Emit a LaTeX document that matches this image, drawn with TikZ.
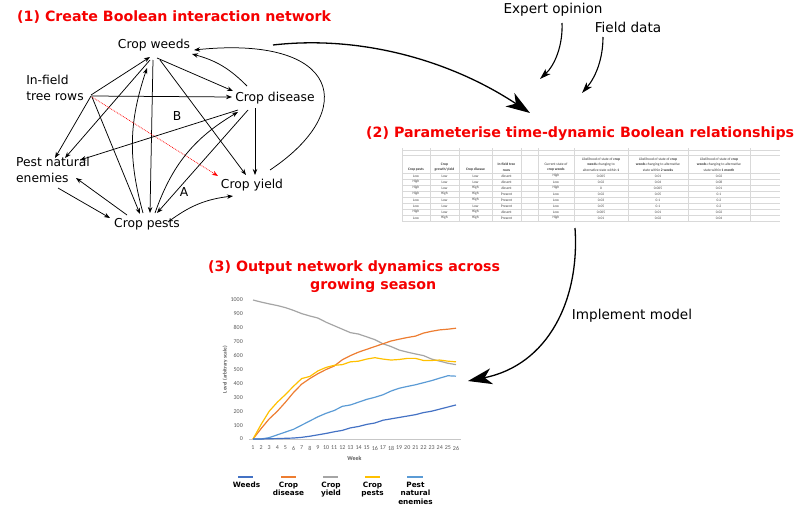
\documentclass[tikz,border=0pt]{standalone}
\usepackage{fontspec}
\setmainfont{DejaVu Sans}
\newfontfamily\calib{Carlito}
\usetikzlibrary{arrows.meta,calc}
\definecolor{cweeds}{HTML}{4472C4}
\definecolor{cdis}{HTML}{ED7D31}
\definecolor{cyld}{HTML}{A5A5A5}
\definecolor{cpst}{HTML}{FFC000}
\definecolor{cnat}{HTML}{5B9BD5}
\definecolor{ttlred}{RGB}{245,0,0}
\begin{document}
\begin{tikzpicture}[x=1pt,y=-1pt,
  lbl/.style={font=\fontsize{12.3}{15.5}\selectfont, inner sep=1pt, align=left},
  lbl2/.style={font=\fontsize{13.6}{16}\selectfont, inner sep=1pt},
  ttl/.style={font=\fontsize{14.2}{17}\selectfont\bfseries, text=ttlred, inner sep=0pt, anchor=west},
  edge/.style={line width=0.75pt, -{Stealth[length=6pt,width=4.5pt]}},
  redge/.style={line width=0.75pt, red, densely dotted, -{Stealth[length=6pt,width=4.5pt]}},
  big/.style={line width=1.3pt, -{Stealth[length=24pt,width=16pt,inset=7pt]}},
  mid/.style={line width=1.1pt, -{Stealth[length=11pt,width=7pt,inset=3pt]}},
  tcell/.style={font=\calib\fontsize{3.6}{4.6}\selectfont, inner sep=0pt, align=center, text=black!75},
  thead/.style={font=\calib\fontsize{3.6}{5.3}\selectfont, inner sep=0pt, align=center, anchor=south, text=black!80},
  tick/.style={font=\calib\fontsize{6}{7}\selectfont, inner sep=0pt, text=black!65},
  leg/.style={font=\fontsize{7.3}{8.7}\selectfont\bfseries, inner sep=0pt, align=center, anchor=north},
  series/.style={line width=1.2pt, line join=round}
]
\useasboundingbox (0,0) rectangle (796,506);

% ---------- (1) network ----------
\node[ttl] (t1) at (17,17) {(1) Create Boolean interaction network};

\node[lbl] (cw) at (154,45) {Crop weeds};
\node[lbl] (tr) at (55,88) {In-field\\tree rows};
\node[lbl] (cd) at (275,98) {Crop disease};
\node[lbl] (ne) at (53,170) {Pest natural\\enemies};
\node[lbl] (cy) at (252,185) {Crop yield};
\node[lbl] (cp) at (147,224) {Crop pests};

\draw[edge] ($(tr)+(36,7)$) -- ($(cw)+(-4,12)$);
\draw[edge] ($(cw)+(3,13)$) -- ($(cd)+(-42,-7)$);
\draw[edge] ($(cd)+(-28,-12)$) to[bend right=15] ($(cw)+(38,9)$);
\draw[edge] ($(cy)+(18,-15)$) .. controls (360,110) and (340,35) .. ($(cw)+(40,5)$);
\draw[edge] ($(cw)+(6,15)$) -- ($(cy)+(-6,-10)$);
\draw[edge] ($(cw)+(-1,15)$) -- ($(cp)+(3,-11)$);
\draw[edge] ($(cp)+(-4,-11)$) to[bend left=17] ($(cw)+(-7,23)$);
\draw[edge] ($(cw)+(-4,15)$) -- ($(ne)+(12,-12)$);
\draw[edge] ($(tr)+(36,8)$) -- ($(ne)+(2,-12)$);
\draw[edge] ($(tr)+(36,8)$) -- ($(cd)+(-43,-1)$);
\draw[edge] ($(tr)+(37,9)$) -- ($(cp)+(-7,-10)$);
\draw[redge] ($(tr)+(37,9)$) -- ($(cy)+(-34,-9)$);
\draw[edge] ($(cd)+(-37,12)$) -- ($(ne)+(27,-10)$);
\draw[edge] ($(cd)+(-20,10)$) -- ($(cy)+(3,-10)$);
\draw[edge] ($(cd)+(-27,12)$) -- ($(cp)+(10,-11)$);
\draw[edge] ($(cp)+(8,-11)$) to[bend left=20] ($(cd)+(-37,14)$);
\draw[edge] ($(ne)+(5,18)$) -- ($(cp)+(-37,-6)$);
\draw[edge] ($(cp)+(-20,-9)$) -- ($(ne)+(23,8)$);
\draw[edge] ($(cp)+(21,-2)$) to[bend left=15] ($(cy)+(-19,11)$);
\node[lbl] (lB) at (177,116) {B};
\node[lbl] (lA) at (184,192) {A};

% ---------- big arrows ----------
\coordinate (s1) at (273,45);
\coordinate (e1) at (530,113);
\draw[big] (s1) .. controls (360,35) and (450,60) .. (e1);

\node[lbl2] (eo) at (553,10) {Expert opinion};
\node[lbl2] (fd) at (628,27) {Field data};
\coordinate (eoe) at (540,79);
\coordinate (fde) at (582,93);
\draw[mid] ($(eo)+(9,13)$) .. controls (563,45) and (555,65) .. (eoe);
\draw[mid] ($(fd)+(-25,10)$) .. controls (603,60) and (595,78) .. (fde);

% ---------- (2) table ----------
\node[ttl] (t2) at (366,134) {(2) Parameterise time-dynamic Boolean relationships};

\foreach \yy in {150,155,173,179,185,191,197,203,209,215,221}
  \draw[black!15, line width=0.4pt] (402,\yy) -- (780,\yy);
\foreach \xx in {402,430,459,492,521,538,574,628,688,750}
  \draw[black!15, line width=0.4pt] (\xx,148) -- (\xx,221);

\node[thead] (h1) at (416,171.5) {\bfseries Crop pests};
\node[thead] (h2) at (444.5,171.5) {\bfseries Crop\\\bfseries growth/yield};
\node[thead] (h3) at (475.5,171.5) {\bfseries Crop disease};
\node[thead] (h4) at (506.5,171.5) {\bfseries In-field tree\\\bfseries rows};
\node[thead] (h6) at (556,171.5) {Current state of\\\bfseries crop weeds};
\node[thead] (h7) at (601,171.5) {Likelihood of state of \textbf{crop}\\\textbf{weeds} changing to\\alternative state within \textbf{1}};
\node[thead] (h8) at (658,171.5) {Likelihood of state of \textbf{crop}\\\textbf{weeds} changing to alternative\\state within \textbf{2 weeks}};
\node[thead] (h9) at (719,171.5) {Likelihood of state of \textbf{crop}\\\textbf{weeds} changing to alternative\\state within \textbf{1 month}};

\foreach \row [count=\r] in {
  {Low,Low,Low,Absent,High,0.005,0.01,0.02},
  {High,Low,Low,Absent,Low,0.02,0.04,0.08},
  {High,Low,High,Absent,High,0,0.005,0.01},
  {High,High,High,Present,Low,0.02,0.05,0.1},
  {Low,Low,High,Present,Low,0.03,0.1,0.2},
  {Low,Low,Low,Present,Low,0.05,0.1,0.2},
  {High,Low,High,Absent,Low,0.005,0.01,0.02},
  {Low,High,High,Present,High,0.01,0.02,0.04}} {
  \foreach \cell [count=\c] in \row {
    \pgfmathsetmacro\cx{{416,444.5,475.5,506.5,556,601,658,719}[\c-1]}
    \pgfmathsetmacro\cy{176+6*(\r-1)}
    \node[tcell] (tc-\r-\c) at (\cx,\cy) {\cell};
  }
}

% ---------- implement model ----------
\coordinate (s2) at (575,228);
\coordinate (e2) at (468,381);
\draw[big] (s2) .. controls (580,300) and (548,365) .. (e2);
\node[lbl2] (im) at (632,316) {Implement model};

% ---------- (3) chart ----------
\node[ttl] (t3a) at (208,268) {(3) Output network dynamics across};
\node[ttl] (t3b) at (310,286) {growing season};

\begin{scope}[xshift=244.88pt, yshift=-439pt, x=8.12pt, y=0.139pt]
  \draw[black!22, line width=0.6pt] (0.5,0) -- (26.6,0);
  \foreach \v in {0,100,...,1000}
    \node[tick, anchor=east] (yt\v) at (-0.23,\v) {\v};
  \foreach \w in {1,...,26}
    \node[tick] (xt\w) at (\w,-65) {\w};
  \node[tick, font=\calib\bfseries\fontsize{6}{7}\selectfont] (wk) at (13.5,-137) {Week};
  \node[tick, font=\calib\bfseries\fontsize{5.3}{6}\selectfont, rotate=90] (lv) at (-2.45,500) {Level (arbitrary scale)};
  \draw[series, cyld] plot coordinates {(1,1000) (2,985) (3,972) (4,960) (5,945) (6,925) (7,902) (8,885) (9,870) (10,840) (11,815) (12,790) (13,765) (14,755) (15,735) (16,715) (17,685) (18,665) (19,640) (20,625) (21,612) (22,600) (23,575) (24,560) (25,545) (26,535)};
  \draw[series, cdis] plot coordinates {(1,0) (2,75) (3,145) (4,200) (5,265) (6,335) (7,395) (8,435) (9,470) (10,500) (11,525) (12,570) (13,600) (14,625) (15,645) (16,665) (17,685) (18,705) (19,718) (20,730) (21,740) (22,762) (23,775) (24,785) (25,790) (26,797)};
  \draw[series, cpst] plot coordinates {(1,0) (2,105) (3,200) (4,265) (5,320) (6,380) (7,435) (8,450) (9,490) (10,515) (11,530) (12,535) (13,555) (14,560) (15,575) (16,585) (17,575) (18,568) (19,572) (20,580) (21,580) (22,565) (23,565) (24,568) (25,560) (26,555)};
  \draw[series, cnat] plot coordinates {(1,0) (2,0) (3,10) (4,30) (5,50) (6,70) (7,100) (8,130) (9,160) (10,185) (11,205) (12,235) (13,245) (14,265) (15,285) (16,300) (17,318) (18,345) (19,365) (20,378) (21,390) (22,405) (23,420) (24,438) (25,455) (26,452)};
  \draw[series, cweeds] plot coordinates {(1,0) (2,0) (3,2) (4,3) (5,5) (6,7) (7,12) (8,20) (9,30) (10,40) (11,52) (12,62) (13,80) (14,90) (15,105) (16,115) (17,135) (18,145) (19,155) (20,165) (21,175) (22,190) (23,200) (24,215) (25,230) (26,245)};
\end{scope}

% legend
\draw[cweeds, line width=1.4pt] (238,477) -- (253,477);
\draw[cdis, line width=1.4pt] (281,477) -- (296,477);
\draw[cyld, line width=1.4pt] (323,477) -- (338,477);
\draw[cpst, line width=1.4pt] (365,477) -- (380,477);
\draw[cnat, line width=1.4pt] (407,477) -- (423,477);
\node[leg] (lg1) at (246.5,481.5) {Weeds};
\node[leg] (lg2) at (288.5,481.5) {Crop\\disease};
\node[leg] (lg3) at (331,481.5) {Crop\\yield};
\node[leg] (lg4) at (372.5,481.5) {Crop\\pests};
\node[leg] (lg5) at (415.5,481.5) {Pest\\natural\\enemies};
\end{tikzpicture}
\end{document}
